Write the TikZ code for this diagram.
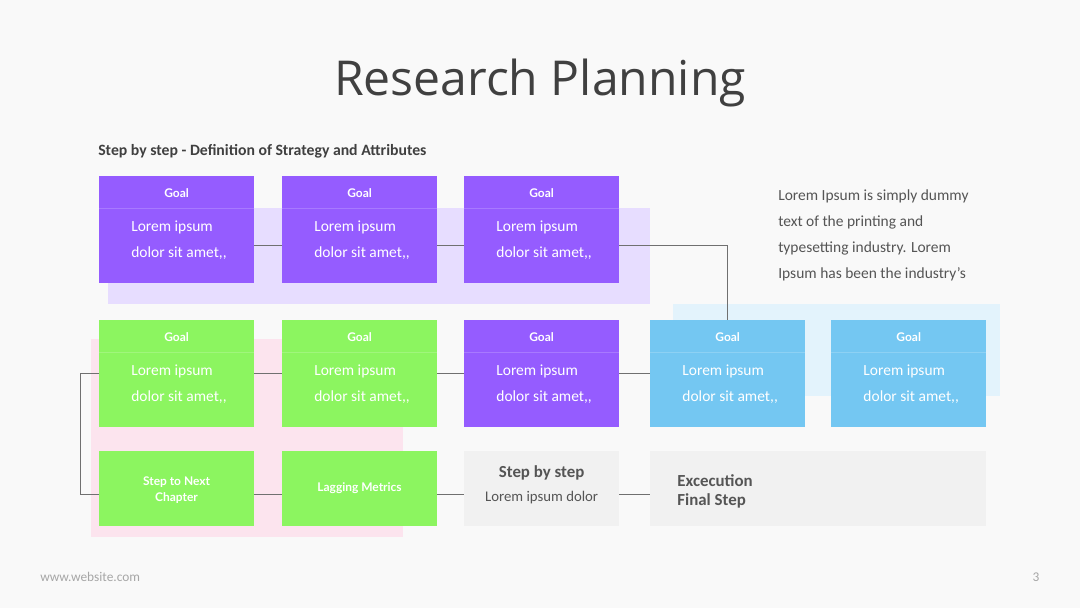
\documentclass[tikz,border=0pt]{standalone}
\usepackage{fontspec}
\setmainfont{Carlito}
\newfontfamily\titlefont{Open Sans}
\newfontfamily\tagfont{Lato}
\usetikzlibrary{positioning, calc, backgrounds}
\definecolor{pagebg}  {HTML}{F9F9F9}
\definecolor{ink}     {HTML}{404040}
\definecolor{softink} {HTML}{555555}
\definecolor{vio}     {HTML}{955CFF}
\definecolor{lime}    {HTML}{8CF560}
\definecolor{sky}     {HTML}{74C7F2}
\definecolor{vioback} {HTML}{E7DDFF}
\definecolor{pinkback}{HTML}{FCE4EE}
\definecolor{skyback} {HTML}{E3F3FC}
\definecolor{stepgray}{HTML}{F1F1F1}
\definecolor{wire}    {HTML}{707070}

\newcommand{\goaltext}{Lorem ipsum\\dolor sit amet{,}{,}}

\tikzset{
  goalbox/.style={fill=#1, minimum width=3.875cm, minimum height=2.675cm, inner sep=0pt, outer sep=0pt,
    path picture={\draw[white, opacity=.18, line width=.6pt]
      ([yshift=-0.8cm]path picture bounding box.north west) -- ([yshift=-0.8cm]path picture bounding box.north east);},
    label={[goalhead]north:Goal}, label={[goalbody]west:{\goaltext}}},
  goalhead/.style={anchor=center, yshift=-0.425cm, inner sep=0pt, text=white, font=\tagfont\bfseries\fontsize{8.5}{10}\selectfont},
  goalbody/.style={anchor=west, xshift=0.8cm, yshift=-0.27cm, inner sep=0pt, align=left, text=white,
    font=\fontsize{11}{18.5}\selectfont},
  stepbox/.style={fill=#1, minimum width=3.875cm, minimum height=1.875cm, inner sep=0pt, outer sep=0pt, align=center},
  tagtext/.style={text=white, font=\tagfont\bfseries\fontsize{8.5}{12}\selectfont},
  wirel/.style={draw=wire, line width=0.6pt},
}

\begin{document}
\begin{tikzpicture}[x=0.025cm, y=-0.025cm]
  \useasboundingbox (0,0) rectangle (1080,608);

  \node[text=ink, font=\titlefont\fontsize{34.2}{40}\selectfont] (title) at (540,83) {Research Planning};
  \node[anchor=west, inner sep=0pt, text=ink, font=\bfseries\fontsize{11.2}{13}\selectfont] (sub) at (98,151)
    {Step by step - Definition of Strategy and Attributes};

  % first row
  \node[goalbox=vio, anchor=north west] (g11) at (99,176) {};
  \node[goalbox=vio, right=0.7cm of g11] (g12) {};
  \node[goalbox=vio, right=0.675cm of g12] (g13) {};

  % second row
  \node[goalbox=lime, below=0.925cm of g11] (g21) {};
  \node[goalbox=lime, right=0.7cm of g21] (g22) {};
  \node[goalbox=vio, right=0.675cm of g22] (g23) {};
  \node[goalbox=sky, right=0.775cm of g23] (g24) {};
  \node[goalbox=sky, right=0.65cm of g24] (g25) {};

  % third row
  \node[stepbox=lime, tagtext, below=0.6cm of g21] (s1) {\strut Step to Next\\Chapter};
  \node[stepbox=lime, tagtext, right=0.7cm of s1] (s2) {\raisebox{-1.5pt}{Lagging Metrics}};
  \node[stepbox=stepgray, right=0.675cm of s2,
    label={[align=center, text=softink, yshift=0.1cm]center:{{\bfseries\fontsize{12}{14}\selectfont Step by step}\\[5pt]{\fontsize{10.5}{12}\selectfont Lorem ipsum dolor}}}] (s3) {};
  \node[stepbox=stepgray, right=0.775cm of s3, minimum width=8.4cm] (s4) {};
  \node[anchor=west, inner sep=0pt, align=left, text=softink, font=\bfseries\fontsize{12}{13}\selectfont]
    (fin) at ([xshift=0.675cm, yshift=-0.07cm]s4.west) {Excecution\\Final Step};

  \node[anchor=north west, inner sep=0pt, align=left, text=softink, font=\fontsize{11}{18.7}\selectfont] (note) at (778,189)
    {Lorem Ipsum is simply dummy\\text of the printing and\\typesetting industry. Lorem\\Ipsum has been the industry's};

  \node[anchor=west, inner sep=0pt, text=black!35, font=\fontsize{9.5}{10}\selectfont] (web) at (40,577) {www.website.com};
  \node[inner sep=0pt, text=black!35, font=\fontsize{9.5}{10}\selectfont] (page) at (1036,577) {3};

  % connectors
  \draw[wirel] ([yshift=-0.4cm]g11.east) -- ([yshift=-0.4cm]g12.west);
  \draw[wirel] ([yshift=-0.4cm]g12.east) -- ([yshift=-0.4cm]g13.west);
  \draw[wirel] ([yshift=-0.4cm]g13.east) -| (g24.north);
  \draw[wirel] (g21.east) -- (g22.west);
  \draw[wirel] (g22.east) -- (g23.west);
  \draw[wirel] (g23.east) -- (g24.west);
  \draw[wirel] (g21.west) -- ++(-19,0) |- ([yshift=-0.15cm]s1.west);
  \draw[wirel] ([yshift=-0.15cm]s1.east) -- ([yshift=-0.15cm]s2.west);
  \draw[wirel] ([yshift=-0.15cm]s2.east) -- ([yshift=-0.15cm]s3.west);
  \draw[wirel] ([yshift=-0.15cm]s3.east) -- ([yshift=-0.15cm]s4.west);

  \begin{scope}[on background layer]
    \fill[pagebg] (0,0) rectangle (1080,608);
    \fill[vioback] (108,208) rectangle (650,304);
    \fill[pinkback] (91,339) rectangle (403,537);
    \fill[skyback] (673,304) rectangle (1000,396);
  \end{scope}
\end{tikzpicture}
\end{document}
